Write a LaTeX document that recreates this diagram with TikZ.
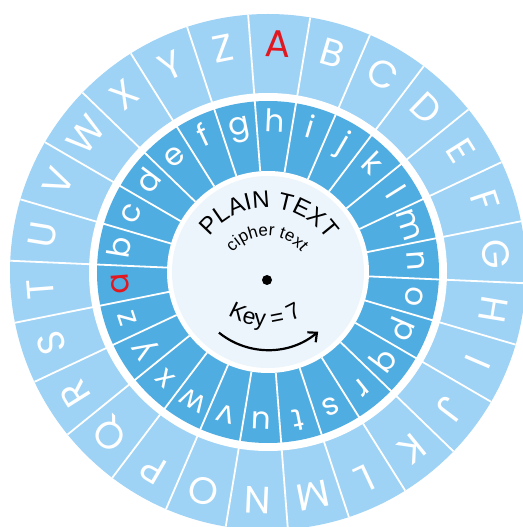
\documentclass[tikz,border=0pt]{standalone}
\usepackage{fontspec}
\setmainfont{Poppins}
\newfontfamily\hubfont{Liberation Sans}
\usetikzlibrary{decorations.text,arrows.meta}
\definecolor{wheelLight}{RGB}{158,211,246}
\definecolor{wheelDark}{RGB}{80,173,225}
\definecolor{hubFill}{RGB}{236,245,252}
\definecolor{keyRed}{RGB}{226,24,32}

\begin{document}
\begin{tikzpicture}[x=1pt,y=1pt,
  outerletter/.style={text=white,anchor=base,inner sep=0pt,font=\fontsize{38}{38}\selectfont},
  innerletter/.style={text=white,anchor=base,inner sep=0pt,font=\fontsize{31}{31}\selectfont},
  divider/.style={white,line width=1.8pt}]
\useasboundingbox (-268,-255) rectangle (254,272);
% the two rings
\fill[wheelLight] (0,0) circle (258);
\fill[white] (0,0) circle (179);
\fill[wheelDark] (0,0) circle (171);
\fill[white] (0,0) circle (101);
\foreach \k in {0,...,25}
  \draw[divider] ({94.42-\k*360/26}:101) -- ({94.42-\k*360/26}:258);
\fill[hubFill] (0,0) circle (96);
% plain alphabet, A on top
\foreach \L [count=\k from 0, evaluate=\k as \ang using 87.5-\k*360/26] in {A,...,Z}
  \node[outerletter,rotate=\ang-90] (out-\L) at (\ang:215) {\ifnum\k=0 \color{keyRed}\fi\L};
% shifted alphabet, key 7
\foreach \l [count=\k from 0, evaluate=\k as \ang using 87.5+(7-\k)*360/26] in {a,...,z}
  \node[innerletter,rotate=\ang-90] (in-\l) at (\ang:140) {\ifnum\k=0 \color{keyRed}\fi\l};
% hub
\coordinate (pivot) at (-1,-8);
\fill (pivot) circle (5);
\path[decorate,decoration={text along path,text align=center,
  text={|\hubfont\fontsize{24}{24}\selectfont|PLAIN TEXT}}]
  ([shift={(178:72)}]pivot) arc[start angle=178,end angle=-2,radius=72];
\path[decorate,decoration={text along path,text align=center,
  text={|\hubfont\fontsize{17}{17}\selectfont|cipher text}}]
  ([shift={(180:44)}]pivot) arc[start angle=180,end angle=0,radius=44];
\coordinate (keyHub) at (-3,16);
\path[decorate,decoration={text along path,text align=center,
  text={|\hubfont\fontsize{23}{23}\selectfont|Key = 7}}]
  ([shift={(210:70)}]keyHub) arc[start angle=210,end angle=330,radius=70];
\coordinate (sweepStart) at (231:78);
\draw[line width=2.2pt,-{Straight Barb[length=7pt,width=13pt]}]
  (sweepStart) arc[start angle=231,end angle=310,radius=78];
\end{tikzpicture}
\end{document}
